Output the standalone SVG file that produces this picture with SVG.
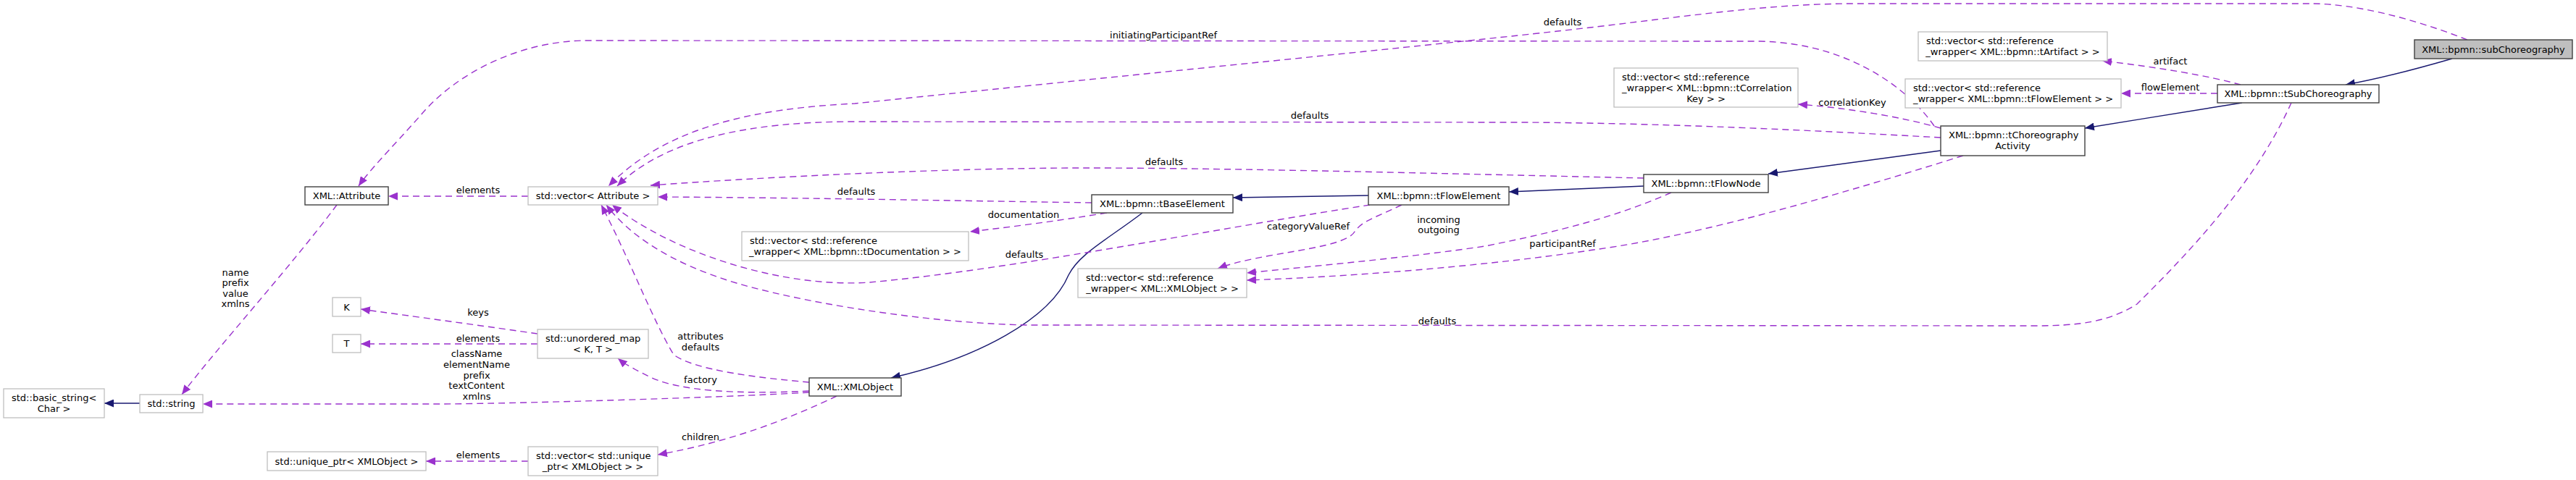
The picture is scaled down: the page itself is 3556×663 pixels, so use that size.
<svg xmlns="http://www.w3.org/2000/svg" width="3556" height="663" viewBox="0 0 3556 663">
<style>
text{font-family:"DejaVu Sans","Liberation Sans",sans-serif;font-size:13px;fill:#000}
.m{text-anchor:middle}
.s{text-anchor:start}
.ext{fill:#fff;stroke:#bfbfbf;stroke-width:1.3}
.doc{fill:#fff;stroke:#404040;stroke-width:1.4}
.root{fill:#bfbfbf;stroke:#404040;stroke-width:1.4}
.use{fill:none;stroke:#9a32cd;stroke-width:1.4;stroke-dasharray:9,6;marker-end:url(#pa)}
.inh{fill:none;stroke:#191970;stroke-width:1.4;marker-end:url(#na)}
</style>
<defs>
<marker id="pa" viewBox="0 0 13 11" refX="13" refY="5.5" markerWidth="13" markerHeight="11" markerUnits="userSpaceOnUse" orient="auto"><path d="M0,0 L13,5.5 L0,11 z" fill="#9a32cd" stroke="none"/></marker>
<marker id="na" viewBox="0 0 13 11" refX="13" refY="5.5" markerWidth="13" markerHeight="11" markerUnits="userSpaceOnUse" orient="auto"><path d="M0,0 L13,5.5 L0,11 z" fill="#191970" stroke="none"/></marker>
</defs>
<rect width="3556" height="663" fill="#fff"/>
<g id="connectors">
<path class="inh" d="M3385,81 C3340,94 3290,108 3238,117"/>
<path class="inh" d="M3095,142 C3030,153 2950,165 2878,177"/>
<path class="inh" d="M2679,208 L2441,240"/>
<path class="inh" d="M2269,257 L2083,265"/>
<path class="inh" d="M1889,270 L1702,273"/>
<path class="inh" d="M1577,294 C1530,330 1490,350 1475,380 C1450,440 1350,495 1230,522"/>
<path class="inh" d="M193,557 L144,557"/>
<path class="use" d="M3406,55 C3330,25 3250,5 3190,5 L2560,5 C2430,5 2300,27 2150,43 C2000,60 1400,120 1180,143 C1040,150 920,175 840,257"/>
<path class="use" d="M2670,174 C2640,130 2560,60 2430,57 L810,56 C720,56 630,100 580,160 C540,205 510,235 495,257"/>
<path class="use" d="M3093,117 C3050,105 2980,93 2902,84"/>
<path class="use" d="M3061,129 L2928,129"/>
<path class="use" d="M2679,177 C2620,160 2540,148 2482,144"/>
<path class="use" d="M2679,190 C2500,180 2300,170 2100,169 L1180,168 C1040,168 920,190 852,257"/>
<path class="use" d="M2269,246 C2000,240 1700,232 1500,232 C1300,232 1050,245 898,256"/>
<path class="use" d="M1507,280 C1300,277 1100,273 908,272"/>
<path class="use" d="M1528,294 C1460,305 1400,313 1339,320"/>
<path class="use" d="M1935,283 C1900,300 1880,305 1870,320 C1855,345 1740,348 1681,371"/>
<path class="use" d="M1891,283 C1700,312 1400,372 1200,390 C1080,398 930,350 845,283"/>
<path class="use" d="M2307,266 C2230,300 2150,320 2050,340 C1950,355 1820,367 1721,377"/>
<path class="use" d="M2710,215 C2550,265 2350,325 2200,345 C2050,368 1850,383 1721,387"/>
<path class="use" d="M3163,142 C3110,260 3010,360 2950,420 C2910,445 2870,450 2808,450 L1420,449 C1300,447 1150,425 1050,400 C960,378 880,340 837,283"/>
<path class="use" d="M1117,528 C1050,522 960,512 930,490 C900,440 870,360 830,283"/>
<path class="use" d="M1117,540 C1020,545 940,540 900,522 C880,512 865,505 853,495"/>
<path class="use" d="M1117,542 C1000,549 700,558 600,558 L280,558"/>
<path class="use" d="M1155,547 C1090,578 1010,610 908,628"/>
<path class="use" d="M742,461 C680,452 600,441 498,427"/>
<path class="use" d="M742,475 L498,475"/>
<path class="use" d="M729,637 L588,637"/>
<path class="use" d="M729,271 L536,271"/>
<path class="use" d="M465,283 C400,370 300,480 251,545"/>
<g id="edge-labels">
<text class="m" x="2157" y="34.5">defaults</text>
<text class="m" x="1606" y="52.5">initiatingParticipantRef</text>
<text class="m" x="1808" y="163.5">defaults</text>
<text class="m" x="1607" y="227.5">defaults</text>
<text class="m" x="1182" y="268.5">defaults</text>
<text class="m" x="660" y="266.5">elements</text>
<text class="m" x="1413" y="300.5">documentation</text>
<text class="m" x="1806" y="316.5">categoryValueRef</text>
<text class="m" x="1986" y="307.5">incoming</text>
<text class="m" x="1986" y="321.5">outgoing</text>
<text class="m" x="2157" y="340.5">participantRef</text>
<text class="m" x="1414" y="355.5">defaults</text>
<text class="m" x="1984" y="447.5">defaults</text>
<text class="m" x="2557" y="145.5">correlationKey</text>
<text class="m" x="2996" y="88.5">artifact</text>
<text class="m" x="2996" y="124.5">flowElement</text>
<text class="m" x="325" y="380.5">name</text>
<text class="m" x="325" y="395">prefix</text>
<text class="m" x="325" y="409.5">value</text>
<text class="m" x="325" y="424">xmlns</text>
<text class="m" x="660" y="435.5">keys</text>
<text class="m" x="660" y="471.5">elements</text>
<text class="m" x="658" y="492.5">className</text>
<text class="m" x="658" y="507.5">elementName</text>
<text class="m" x="658" y="522.5">prefix</text>
<text class="m" x="658" y="537">textContent</text>
<text class="m" x="658" y="551.5">xmlns</text>
<text class="m" x="967" y="468.5">attributes</text>
<text class="m" x="967" y="483.5">defaults</text>
<text class="m" x="967" y="528.5">factory</text>
<text class="m" x="967" y="607.5">children</text>
<text class="m" x="660" y="632.5">elements</text>
</g>
</g>
<g id="node-subChoreography"><rect class="root" x="3333" y="55" width="218" height="26"/><text class="m" x="3442" y="72.5">XML::bpmn::subChoreography</text></g>
<g id="node-tSubChoreography"><rect class="doc" x="3061" y="117" width="223" height="25"/><text class="m" x="3172.5" y="134">XML::bpmn::tSubChoreography</text></g>
<g id="node-vecArtifact"><rect class="ext" x="2648" y="44" width="261" height="40"/><text class="s" x="2659" y="60.5">std::vector&lt; std::reference</text><text class="m" x="2778.5" y="75.5">_wrapper&lt; XML::bpmn::tArtifact &gt; &gt;</text></g>
<g id="node-vecFlowElement"><rect class="ext" x="2630" y="109" width="298" height="40"/><text class="s" x="2641" y="125.5">std::vector&lt; std::reference</text><text class="m" x="2779" y="140.5">_wrapper&lt; XML::bpmn::tFlowElement &gt; &gt;</text></g>
<g id="node-vecCorrelationKey"><rect class="ext" x="2228" y="94" width="254" height="54"/><text class="s" x="2239" y="110.5">std::vector&lt; std::reference</text><text class="s" x="2239" y="125.5">_wrapper&lt; XML::bpmn::tCorrelation</text><text class="m" x="2355" y="140.5">Key &gt; &gt;</text></g>
<g id="node-tChoreographyActivity"><rect class="doc" x="2679" y="174" width="199" height="41"/><text class="s" x="2690" y="190.5">XML::bpmn::tChoreography</text><text class="m" x="2778.5" y="205.5">Activity</text></g>
<g id="node-tFlowNode"><rect class="doc" x="2269" y="241" width="172" height="25"/><text class="m" x="2355" y="258">XML::bpmn::tFlowNode</text></g>
<g id="node-tFlowElement"><rect class="doc" x="1889" y="258" width="194" height="25"/><text class="m" x="1986" y="275">XML::bpmn::tFlowElement</text></g>
<g id="node-tBaseElement"><rect class="doc" x="1507" y="269" width="195" height="25"/><text class="m" x="1604.5" y="286">XML::bpmn::tBaseElement</text></g>
<g id="node-vecAttribute"><rect class="ext" x="729" y="258" width="179" height="25"/><text class="m" x="818.5" y="275">std::vector&lt; Attribute &gt;</text></g>
<g id="node-Attribute"><rect class="doc" x="421" y="258" width="115" height="25"/><text class="m" x="478.5" y="275">XML::Attribute</text></g>
<g id="node-vecDocumentation"><rect class="ext" x="1024" y="320" width="313" height="40"/><text class="s" x="1035" y="336.5">std::vector&lt; std::reference</text><text class="m" x="1180.5" y="351.5">_wrapper&lt; XML::bpmn::tDocumentation &gt; &gt;</text></g>
<g id="node-vecXMLObjectRef"><rect class="ext" x="1488" y="371" width="233" height="40"/><text class="s" x="1499" y="387.5">std::vector&lt; std::reference</text><text class="m" x="1604.5" y="402.5">_wrapper&lt; XML::XMLObject &gt; &gt;</text></g>
<g id="node-K"><rect class="ext" x="459" y="411" width="39" height="26"/><text class="m" x="478.5" y="428.5">K</text></g>
<g id="node-T"><rect class="ext" x="459" y="462" width="39" height="25"/><text class="m" x="478.5" y="479">T</text></g>
<g id="node-unorderedMap"><rect class="ext" x="742" y="455" width="153" height="40"/><text class="s" x="753" y="471.5">std::unordered_map</text><text class="m" x="818.5" y="486.5">&lt; K, T &gt;</text></g>
<g id="node-basicString"><rect class="ext" x="5" y="537" width="139" height="40"/><text class="s" x="16" y="553.5">std::basic_string&lt;</text><text class="m" x="74.5" y="568.5">Char &gt;</text></g>
<g id="node-string"><rect class="ext" x="193" y="545" width="87" height="25"/><text class="m" x="236.5" y="562">std::string</text></g>
<g id="node-XMLObject"><rect class="doc" x="1117" y="522" width="127" height="25"/><text class="m" x="1180.5" y="539">XML::XMLObject</text></g>
<g id="node-uniquePtr"><rect class="ext" x="369" y="624" width="219" height="26"/><text class="m" x="478.5" y="641.5">std::unique_ptr&lt; XMLObject &gt;</text></g>
<g id="node-vecUniquePtr"><rect class="ext" x="729" y="617" width="179" height="40"/><text class="s" x="740" y="633.5">std::vector&lt; std::unique</text><text class="m" x="818.5" y="648.5">_ptr&lt; XMLObject &gt; &gt;</text></g>
</svg>
